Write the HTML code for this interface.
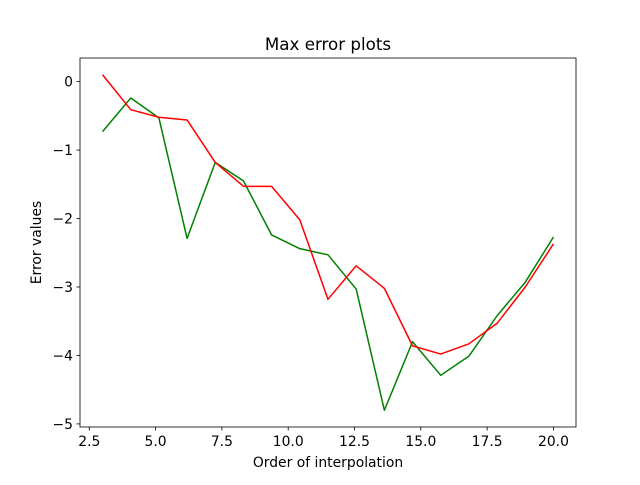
<!DOCTYPE html>
<html><head><meta charset="utf-8"><style>body{margin:0;background:#fff}svg text{font-family:"DejaVu Sans","Liberation Sans",sans-serif;}</style></head>
<body>
<svg id="chart" width="640" height="480" xmlns="http://www.w3.org/2000/svg"></svg>
<script>
const xValues = [3,4.0625,5.125,6.1875,7.25,8.3125,9.375,10.4375,11.5,12.5625,13.625,14.6875,15.75,16.8125,17.875,18.9375,20];
const redSeries = [0.1,-0.41,-0.52,-0.56,-1.18,-1.53,-1.53,-2.02,-3.18,-2.69,-3.02,-3.86,-3.98,-3.83,-3.53,-3.0,-2.37];
const greenSeries = [-0.73,-0.24,-0.53,-2.29,-1.18,-1.45,-2.24,-2.44,-2.53,-3.03,-4.8,-3.8,-4.29,-4.01,-3.42,-2.93,-2.27];
const xTicks = [2.5,5.0,7.5,10.0,12.5,15.0,17.5,20.0];
const yTicks = [0,-1,-2,-3,-4,-5];

const svg = document.getElementById('chart');
const NS = 'http://www.w3.org/2000/svg';
const L=80,R=576,T=58,B=427;
const xmin=2.15,xmax=20.85,ymin=-5.045,ymax=0.345;
const sx=v=>L+(v-xmin)/(xmax-xmin)*(R-L);
const sy=v=>B-(v-ymin)/(ymax-ymin)*(B-T);
function mk(tag,attrs,parent){const e=document.createElementNS(NS,tag);for(const k in attrs)e.setAttribute(k,attrs[k]);(parent||svg).appendChild(e);return e;}

function series(data,color,name){
  const p=mk('polyline',{points:data.map((v,i)=>sx(xValues[i])+','+sy(v)).join(' '),fill:'none',stroke:color,'stroke-width':1.5,'stroke-linejoin':'round'});
  
  
}
series(greenSeries,'green','green-series-line');
series(redSeries,'red','red-series-line');

const frame=mk('rect',{x:L,y:T,width:R-L,height:B-T,fill:'none',stroke:'#000','stroke-width':0.8});



xTicks.forEach(t=>{
  const x=sx(t);
  mk('line',{x1:x,y1:B,x2:x,y2:B+3.5,stroke:'#000','stroke-width':0.8});
  const tx=mk('text',{x:x,y:B+19,'text-anchor':'middle','font-size':13.9});
  tx.textContent=t.toFixed(1);
  
  
});
yTicks.forEach(t=>{
  const y=sy(t);
  mk('line',{x1:L-3.5,y1:y,x2:L,y2:y,stroke:'#000','stroke-width':0.8});
  const tx=mk('text',{x:L-7,y:y+5,'text-anchor':'end','font-size':13.9});
  tx.textContent=t===0?'0':'\u2212'+Math.abs(t);
  
  
});
const title=mk('text',{x:(L+R)/2,y:50,'text-anchor':'middle','font-size':16.7});
title.textContent='Max error plots';


const xl=mk('text',{x:(L+R)/2,y:467,'text-anchor':'middle','font-size':13.9});
xl.textContent='Order of interpolation';


const yl=mk('text',{x:41,y:(T+B)/2,'text-anchor':'middle','font-size':13.9,transform:'rotate(-90 41 '+((T+B)/2)+')'});
yl.textContent='Error values';


</script>
</body></html>
